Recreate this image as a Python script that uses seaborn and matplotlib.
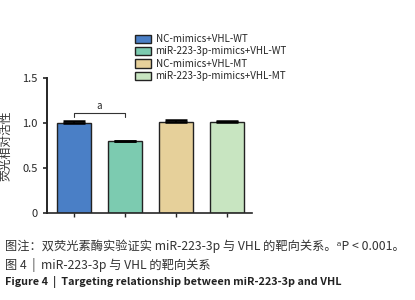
import matplotlib
matplotlib.use("Agg")
import matplotlib.pyplot as plt
import seaborn as sns
import pandas as pd
import numpy as np

groups = ["NC-mimics+VHL-WT", "miR-223-3p-mimics+VHL-WT",
          "NC-mimics+VHL-MT", "miR-223-3p-mimics+VHL-MT"]
values = [1.00, 0.80, 1.01, 1.01]
errors = [0.02, 0.005, 0.025, 0.015]
colors = ["#4a7fc6", "#7ccbb0", "#e6d09a", "#c8e5c1"]
yticks = [0, 0.5, 1.0, 1.5]
ytick_labels = ["0", "0.5", "1.0", "1.5"]
ylabel = "荧光相对活性"
sig_label = "a"
caption1 = "图注：双荧光素酶实验证实 miR-223-3p 与 VHL 的靶向关系。ᵃP < 0.001。"
caption2 = "图 4  |  miR-223-3p 与 VHL 的靶向关系"
caption3 = "Figure 4  |  Targeting relationship between miR-223-3p and VHL"

sns.set_style("ticks")
plt.rcParams["font.family"] = ["Noto Sans CJK SC", "DejaVu Sans"]

df = pd.DataFrame({"group": groups, "value": values})

fig = plt.figure(figsize=(4.15, 3.0), dpi=100)
ax = fig.add_axes([0.113, 0.29, 0.494, 0.45])

sns.barplot(data=df, x="group", y="value", hue="group", palette=colors,
            order=groups, hue_order=groups, dodge=False, errorbar=None,
            saturation=1, width=0.68, edgecolor="#222222", linewidth=1.0,
            ax=ax, legend=True)

xs = np.arange(len(groups))
ax.errorbar(xs, values, yerr=[np.zeros(len(errors)), errors], fmt="none",
            ecolor="black", elinewidth=1.2, capsize=8, capthick=1.8)

ax.set_ylim(0, 1.5)
ax.set_xlim(-0.53, 3.49)
ax.set_yticks(yticks)
ax.set_yticklabels(ytick_labels, fontsize=8)
ax.set_xticks(xs)
ax.set_xticklabels([])
ax.set_xlabel("")
ax.set_ylabel(ylabel, fontsize=8.5, labelpad=7, color="#333333")
ax.tick_params(axis="y", length=3, width=1.2)
ax.tick_params(axis="x", length=3, width=1.0)
ax.spines["left"].set_linewidth(1.4)
ax.spines["bottom"].set_linewidth(1.2)
sns.despine(ax=ax)

# significance bracket
y0, y1 = 1.07, 1.11
ax.plot([0, 0, 1, 1], [y0, y1, y1, y0], color="#333333", lw=0.8)
ax.text(0.5, y1 + 0.02, sig_label, ha="center", va="bottom", fontsize=7)

handles, labels = ax.get_legend_handles_labels()
leg = ax.legend(handles, labels, loc="upper left", bbox_to_anchor=(0.41, 1.355),
                frameon=False, fontsize=7.1, handlelength=1.6, handleheight=0.9,
                handletextpad=0.5, labelspacing=0.25, borderaxespad=0)
for h in leg.legend_handles:
    h.set_edgecolor("#222222")

fig.text(0.012, 0.178, caption1, fontsize=8.8, color="#333333", va="center")
fig.text(0.012, 0.115, caption2, fontsize=8.8, color="#333333", va="center")
fig.text(0.012, 0.06, caption3, fontsize=7.8, color="#222222", va="center",
         fontweight="bold")

fig.savefig("out.png", dpi=100)
